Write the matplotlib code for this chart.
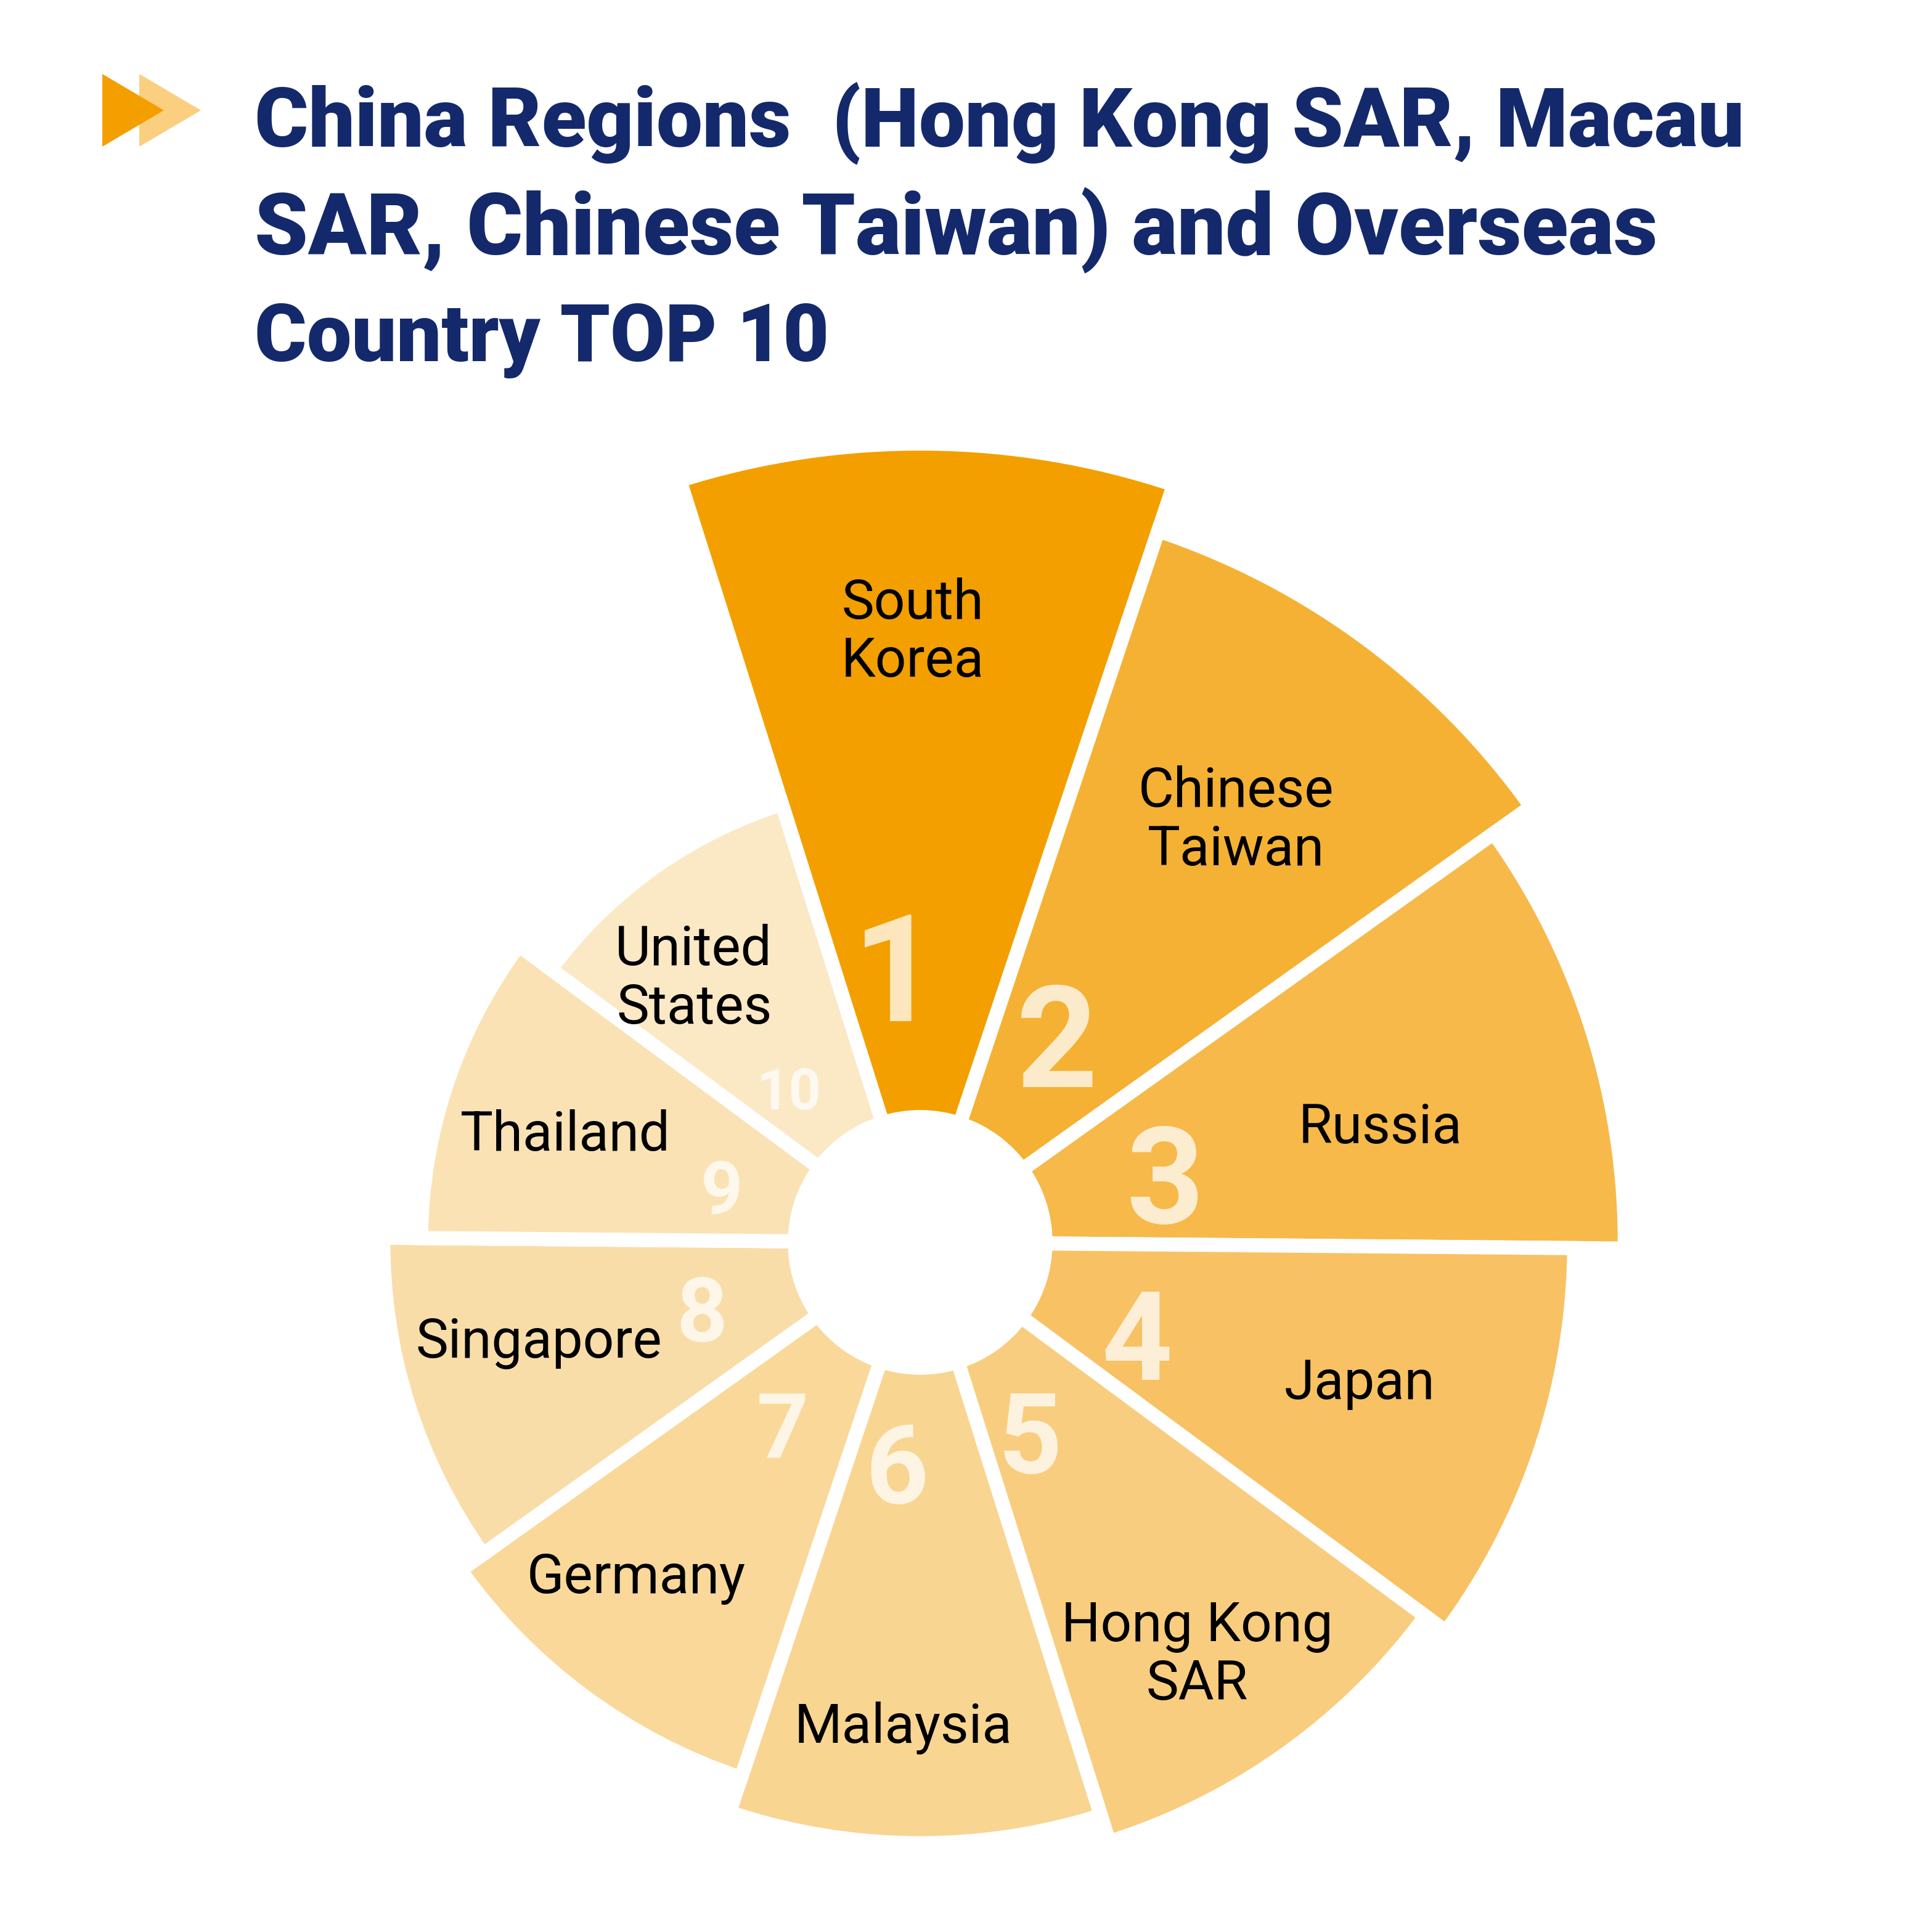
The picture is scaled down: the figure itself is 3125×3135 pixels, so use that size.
import numpy as np
import matplotlib
matplotlib.use('Agg')
import matplotlib.pyplot as plt
from matplotlib.patches import Polygon

plt.rcParams['font.family'] = ['Roboto', 'DejaVu Sans']

# data, ranked 1..10 clockwise from the top
countries = ['South\nKorea', 'Chinese\nTaiwan', 'Russia', 'Japan', 'Hong Kong\nSAR',
             'Malaysia', 'Germany', 'Singapore', 'Thailand', 'United\nStates']
ranks = [str(i) for i in range(1, 11)]
values = [100, 92.8, 86.0, 78.5, 74.7, 70.6, 65.2, 61.1, 55.5, 49.6]
colors = ['#F39F00', '#F5B133', '#F6B94A', '#F8C163', '#F9CD7F',
          '#F9D592', '#F9D89A', '#F9DDA9', '#FAE2B4', '#FBE8C5']

title_lines = ['China Regions  (Hong Kong SAR, Macau',
               'SAR, Chinese Taiwan) and Overseas',
               'Country TOP 10']

# layout (label / rank placement relative to each wedge)
label_dtheta = [-1.2, -0.2, 2.9, -1.3, 1.1, 1.5, 4.2, 3.5, -0.9, -4.3]
label_r = [91.8, 79.2, 70.6, 68.3, 72.8, 71.3, 64.7, 58.3, 55.3, 52.5]
label_align = ['center'] * 9 + ['right']
rank_dtheta = [-5.5, -3.2, 1.6, 4.2, 5.2, 5.6, 0.5, 0.8, -2.7, -4.8]
rank_r = [41.4, 37.0, 37.8, 34.9, 32.4, 32.8, 33.9, 33.8, 30.6, 30.1]
rank_size = [88, 83, 79, 72, 65, 64, 53, 52, 43, 33]

W, H, DPI = 3125, 3135, 200
HOLE = 18.6
RMAX = 120
PX = 10.93          # pixels per radial unit
cx, cy = 1493, 2016  # chart centre in pixels (from top)
GAP = 23            # white gap between wedges, px
ROT = 0.5           # wedges turned slightly clockwise

fig = plt.figure(figsize=(W / DPI, H / DPI), dpi=DPI)
fig.patch.set_facecolor('white')

R = RMAX * PX
ax = fig.add_axes([(cx - R) / W, (H - cy - R) / H, 2 * R / W, 2 * R / H], projection='polar')
ax.set_theta_zero_location('N', offset=-ROT)
ax.set_theta_direction(-1)

theta = np.deg2rad(np.arange(len(values)) * 36)
ax.bar(theta, values, width=np.deg2rad(36), bottom=HOLE, color=colors,
       edgecolor='white', linewidth=GAP * 72 / DPI, align='center')
ax.set_ylim(0, RMAX)
ax.axis('off')

for i in range(len(values)):
    ax.text(theta[i] + np.deg2rad(label_dtheta[i]), label_r[i], countries[i],
            ha='center', va='center_baseline', fontsize=32, color='black',
            linespacing=1.14, multialignment=label_align[i])
    ax.text(theta[i] + np.deg2rad(rank_dtheta[i]), rank_r[i], ranks[i],
            ha='center', va='center_baseline', fontsize=rank_size[i],
            fontweight='bold', color='white', alpha=0.75)

# title
baselines = [239, 412, 586]
title_size = [48.0, 50.0, 46.5]
for line, b, s in zip(title_lines, baselines, title_size):
    fig.text(413 / W, 1 - b / H, line, ha='left', va='baseline',
             fontsize=s, fontweight='heavy', color='#14296B')

# double arrow icon
def tri(x0, x1, y0, y1, color):
    pts = [(x0 / W, 1 - y0 / H), (x0 / W, 1 - y1 / H), (x1 / W, 1 - (y0 + y1) / 2 / H)]
    fig.add_artist(Polygon(pts, closed=True, transform=fig.transFigure,
                           facecolor=color, edgecolor='none'))

tri(226, 326, 120, 238, '#FBCF80')
tri(166, 266, 120, 238, '#F39F00')

fig.savefig('out.png', dpi=DPI)
